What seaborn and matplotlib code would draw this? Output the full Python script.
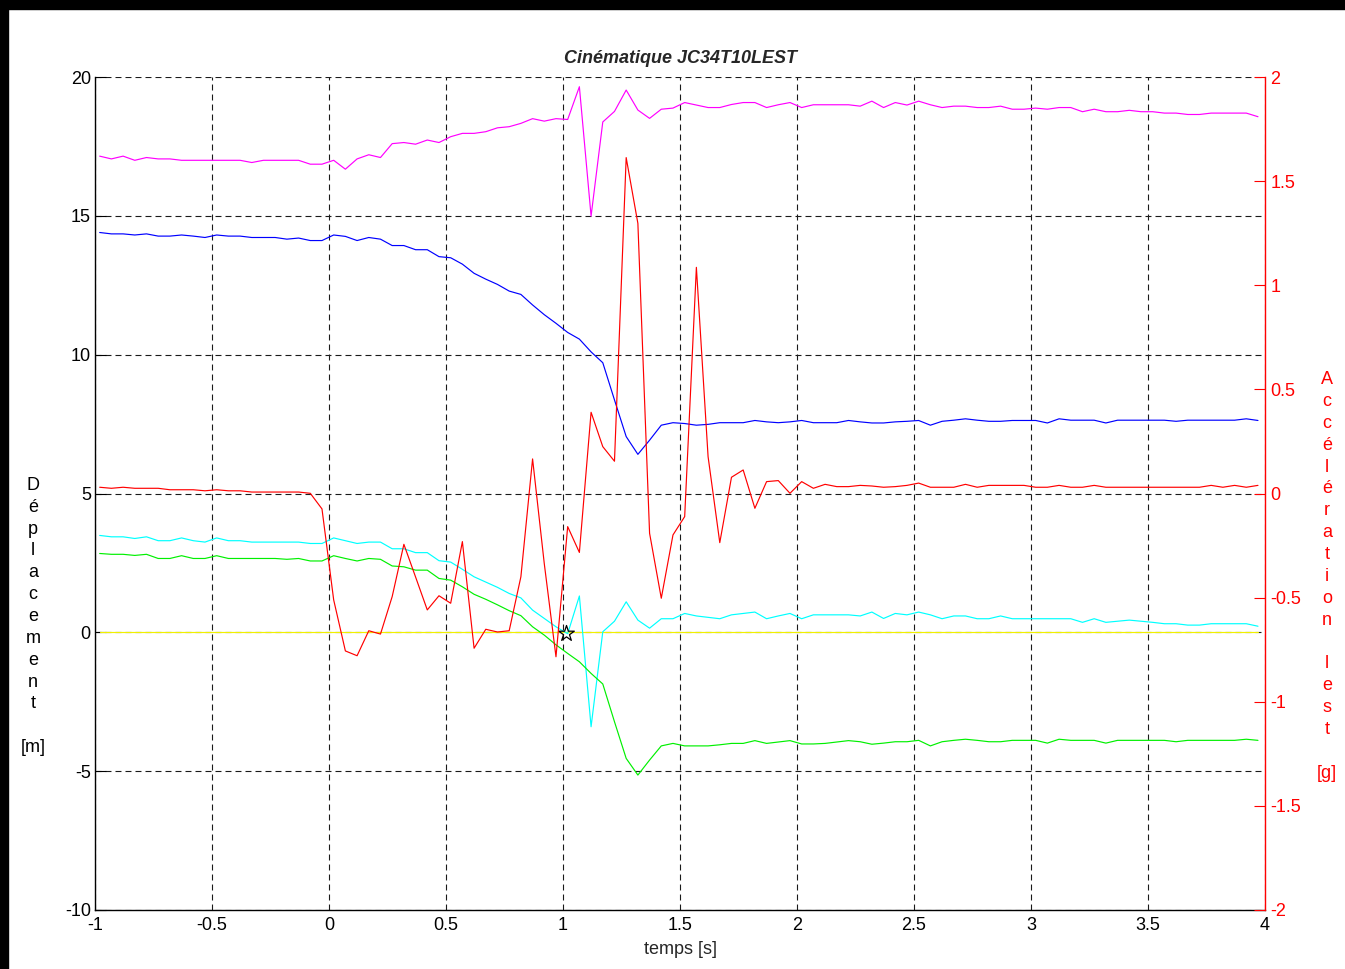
import numpy as np
import pandas as pd
import matplotlib
matplotlib.use("Agg")
import matplotlib.pyplot as plt
from matplotlib.patches import Rectangle
import seaborn as sns

# ---------------- data ----------------
T_START = -0.98
T_STEP = 0.05
N = 100

magenta = [17.15, 17.05, 17.15, 17.0, 17.1, 17.05, 17.05, 17.0, 17.0, 17.0,
           17.0, 17.0, 17.0, 16.92, 17.0, 17.0, 17.0, 17.0, 16.86, 16.86,
           17.0, 16.68, 17.05, 17.2, 17.1, 17.6, 17.64, 17.58, 17.73, 17.64,
           17.85, 17.97, 17.97, 18.03, 18.17, 18.21, 18.33, 18.5, 18.41, 18.5,
           18.47, 19.65, 14.99, 18.38, 18.76, 19.53, 18.81, 18.51, 18.84, 18.88,
           19.08, 18.99, 18.9, 18.9, 19.01, 19.08, 19.08, 18.9, 19.0, 19.08,
           18.9, 19.0, 19.0, 19.0, 19.0, 18.95, 19.13, 18.9, 19.08, 18.99,
           19.13, 19.0, 18.9, 18.95, 18.95, 18.9, 18.9, 18.95, 18.84, 18.84,
           18.88, 18.84, 18.9, 18.9, 18.75, 18.84, 18.75, 18.75, 18.8, 18.75,
           18.75, 18.7, 18.7, 18.65, 18.65, 18.7, 18.7, 18.7, 18.7, 18.57]

blue = [14.40, 14.35, 14.35, 14.31, 14.35, 14.27, 14.27, 14.31, 14.27, 14.22,
        14.31, 14.27, 14.27, 14.22, 14.22, 14.22, 14.16, 14.2, 14.11, 14.11,
        14.31, 14.26, 14.11, 14.22, 14.16, 13.93, 13.93, 13.78, 13.78, 13.53,
        13.49, 13.26, 12.93, 12.72, 12.53, 12.29, 12.17, 11.79, 11.44, 11.13,
        10.8, 10.56, 10.1, 9.71, 8.37, 7.05, 6.41, 6.92, 7.46, 7.55,
        7.52, 7.46, 7.49, 7.55, 7.55, 7.55, 7.63, 7.58, 7.55, 7.58,
        7.63, 7.55, 7.55, 7.55, 7.63, 7.58, 7.54, 7.54, 7.58, 7.6,
        7.63, 7.46, 7.6, 7.64, 7.69, 7.64, 7.6, 7.6, 7.63, 7.63,
        7.63, 7.54, 7.69, 7.64, 7.64, 7.64, 7.54, 7.64, 7.64, 7.64,
        7.64, 7.64, 7.6, 7.64, 7.64, 7.64, 7.64, 7.64, 7.69, 7.63]

cyan = [3.49, 3.44, 3.44, 3.38, 3.44, 3.3, 3.3, 3.4, 3.3, 3.25,
        3.4, 3.3, 3.3, 3.25, 3.25, 3.25, 3.25, 3.25, 3.2, 3.2,
        3.4, 3.3, 3.2, 3.25, 3.25, 3.01, 3.01, 2.87, 2.87, 2.58,
        2.53, 2.27, 2.0, 1.81, 1.62, 1.4, 1.24, 0.8, 0.5, 0.2,
        -0.05, 1.31, -3.4, 0.02, 0.4, 1.1, 0.44, 0.15, 0.49, 0.49,
        0.68, 0.59, 0.54, 0.49, 0.63, 0.68, 0.73, 0.49, 0.59, 0.68,
        0.49, 0.63, 0.63, 0.63, 0.63, 0.59, 0.73, 0.5, 0.68, 0.63,
        0.73, 0.63, 0.49, 0.59, 0.59, 0.49, 0.49, 0.59, 0.49, 0.49,
        0.49, 0.49, 0.49, 0.49, 0.36, 0.49, 0.36, 0.4, 0.44, 0.4,
        0.36, 0.31, 0.31, 0.26, 0.26, 0.31, 0.31, 0.31, 0.31, 0.22]

green = [2.84, 2.81, 2.81, 2.77, 2.81, 2.66, 2.66, 2.76, 2.66, 2.66,
         2.76, 2.66, 2.66, 2.66, 2.66, 2.66, 2.63, 2.66, 2.57, 2.57,
         2.76, 2.66, 2.57, 2.66, 2.63, 2.39, 2.36, 2.24, 2.24, 1.94,
         1.88, 1.64, 1.37, 1.19, 0.99, 0.78, 0.6, 0.2, -0.1, -0.45,
         -0.76, -1.06, -1.48, -1.86, -3.22, -4.54, -5.14, -4.6, -4.09, -4.0,
         -4.09, -4.09, -4.09, -4.05, -4.0, -4.0, -3.9, -4.0, -3.95, -3.9,
         -4.02, -4.02, -4.0, -3.95, -3.9, -3.94, -4.03, -3.99, -3.94, -3.94,
         -3.89, -4.09, -3.94, -3.89, -3.85, -3.89, -3.94, -3.94, -3.89, -3.89,
         -3.89, -3.99, -3.85, -3.89, -3.89, -3.89, -3.99, -3.89, -3.89, -3.89,
         -3.89, -3.89, -3.94, -3.89, -3.89, -3.89, -3.89, -3.89, -3.85, -3.89]

zero_line = [0.0] * N

accel_red = [0.03, 0.025, 0.03, 0.025, 0.025, 0.025, 0.018, 0.018, 0.018, 0.013,
             0.018, 0.013, 0.013, 0.007, 0.007, 0.007, 0.007, 0.007, 0.001, -0.074,
             -0.511, -0.756, -0.779, -0.659, -0.675, -0.495, -0.244, -0.401, -0.559, -0.491,
             -0.527, -0.231, -0.743, -0.652, -0.665, -0.659, -0.4, 0.166, -0.337, -0.784,
             -0.159, -0.283, 0.39, 0.225, 0.155, 1.613, 1.297, -0.191, -0.503, -0.199,
             -0.111, 1.086, 0.177, -0.236, 0.078, 0.113, -0.071, 0.057, 0.062, 0.001,
             0.057, 0.025, 0.044, 0.033, 0.033, 0.039, 0.036, 0.03, 0.033, 0.039,
             0.05, 0.03, 0.03, 0.03, 0.044, 0.03, 0.039, 0.039, 0.039, 0.039,
             0.03, 0.03, 0.039, 0.03, 0.03, 0.039, 0.03, 0.03, 0.03, 0.03,
             0.03, 0.03, 0.03, 0.03, 0.03, 0.039, 0.03, 0.039, 0.03, 0.039]

star_t = [1.015]
star_y = [-0.05]

x_ticks = [-1, -0.5, 0, 0.5, 1, 1.5, 2, 2.5, 3, 3.5, 4]
x_ticklabels = ["-1", "-0.5", "0", "0.5", "1", "1.5", "2", "2.5", "3", "3.5", "4"]
y_ticks = [-10, -5, 0, 5, 10, 15, 20]
y2_ticks = [-2, -1.5, -1, -0.5, 0, 0.5, 1, 1.5, 2]
y2_ticklabels = ["-2", "-1.5", "-1", "-0.5", "0", "0.5", "1", "1.5", "2"]

title = "Cinématique JC34T10LEST"
xlabel = "temps [s]"
ylabel_left = "Déplacement"
ylabel_left_unit = "[m]"
ylabel_right_words = ["Accélération", "lest"]
ylabel_right_unit = "[g]"

t = np.round(T_START + T_STEP * np.arange(N), 3)

# ---------------- style ----------------
sns.set_theme(style="white")
plt.rcParams["font.family"] = ["Liberation Sans", "DejaVu Sans"]
plt.rcParams["lines.scale_dashes"] = False

FS = 13
fig = plt.figure(figsize=(13.45, 9.69), dpi=100)
fig.patch.set_facecolor("white")
ax = fig.add_axes([95 / 1345, 1 - 910 / 969, 1170 / 1345, 833 / 969])
ax.set_facecolor("white")

lw = 0.85
dash = (0, (4.3, 2.9))

df = pd.DataFrame({"t": t, "magenta": magenta, "blue": blue, "cyan": cyan,
                   "green": green, "zero": zero_line, "red": accel_red})

# grid (behind data)
ax.set_axisbelow(True)
ax.grid(True, color="#1a1a1a", linestyle=dash, linewidth=0.8)

sns.lineplot(data=df, x="t", y="zero", ax=ax, color="#f0f000", linewidth=lw, sort=False, estimator=None)
sns.lineplot(data=df, x="t", y="magenta", ax=ax, color="#ff00ff", linewidth=lw, sort=False, estimator=None)
sns.lineplot(data=df, x="t", y="blue", ax=ax, color="#0000ff", linewidth=lw, sort=False, estimator=None)
sns.lineplot(data=df, x="t", y="cyan", ax=ax, color="#00ffff", linewidth=lw, sort=False, estimator=None)
sns.lineplot(data=df, x="t", y="green", ax=ax, color="#00f000", linewidth=lw, sort=False, estimator=None)
sns.scatterplot(x=star_t, y=star_y, ax=ax, marker="*", s=140, color="none",
                edgecolor="black", linewidth=0.9, zorder=5)

ax.set_xlim(-1, 4)
ax.set_ylim(-10, 20)
ax.set_xticks(x_ticks)
ax.set_xticklabels(x_ticklabels)
ax.set_yticks(y_ticks)
ax.set_yticklabels([str(v) for v in y_ticks])
ax.tick_params(axis="both", direction="in", length=8, width=0.8, colors="black",
               labelsize=FS, pad=3)
ax.tick_params(axis="x", pad=5)
for side in ["top", "right"]:
    ax.spines[side].set_visible(False)
for side in ["left", "bottom"]:
    ax.spines[side].set_visible(True)
    ax.spines[side].set_color("black")
    ax.spines[side].set_linewidth(1.0)
ax.set_ylabel("")
ax.set_xlabel(xlabel, fontsize=FS, labelpad=5)
ax.set_title(title, fontsize=FS, fontweight="bold", fontstyle="italic", pad=10)

# right axis
ax2 = ax.twinx()
ax2.set_position(ax.get_position())
sns.lineplot(data=df, x="t", y="red", ax=ax2, color="#ff0000", linewidth=lw, sort=False, estimator=None)
ax2.set_ylim(-2, 2)
ax2.set_yticks(y2_ticks)
ax2.set_yticklabels(y2_ticklabels)
ax2.set_ylabel("")
ax2.tick_params(axis="y", direction="in", length=8, width=0.8, colors="#ff0000",
                labelsize=FS, pad=4)
ax2.grid(False)
for side in ["top", "left", "bottom"]:
    ax2.spines[side].set_visible(False)
ax2.spines["right"].set_visible(True)
ax2.spines["right"].set_color("#ff0000")
ax2.spines["right"].set_linewidth(1.0)

# stacked vertical labels
left_lbl = "\n".join(list(ylabel_left)) + "\n\n" + ylabel_left_unit
fig.text(33 / 1345, 1 - 616.5 / 969, left_lbl, ha="center", va="center",
         fontsize=FS, linespacing=1.375, color="black")
right_lbl = "\n".join(list(ylabel_right_words[0])) + "\n\n" + "\n".join(list(ylabel_right_words[1])) \
    + "\n\n" + ylabel_right_unit
fig.text(1327 / 1345, 1 - 576.5 / 969, right_lbl, ha="center", va="center",
         fontsize=FS, linespacing=1.375, color="#ff0000")

# black frame bands (top and left)
fig.add_artist(Rectangle((0, 1 - 9 / 969), 1, 9 / 969, transform=fig.transFigure,
                         color="black", zorder=10))
fig.add_artist(Rectangle((0, 0), 8 / 1345, 1, transform=fig.transFigure,
                         color="black", zorder=10))

fig.savefig("out.png", dpi=100, facecolor="white")
